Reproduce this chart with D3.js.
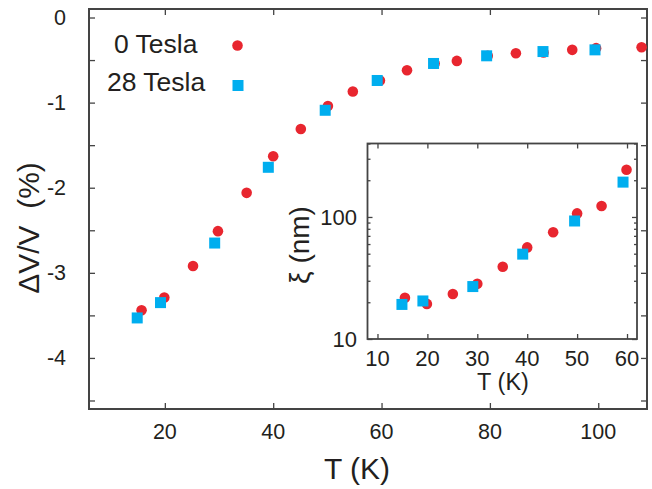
<!DOCTYPE html>
<html>
<head>
<meta charset="utf-8">
<script src="https://cdn.jsdelivr.net/npm/d3@7"></script>
<style>
  body { margin: 0; background: #fff; }
  text { font-family: "Liberation Sans", Arial, sans-serif; fill: #231f20; }
  .axis path { display: none; }
  .axis line { stroke: #444; stroke-width: 1.3; }
</style>
</head>
<body>
<div id="chart"></div>
<script>
// main panel: dV/V vs T
var mainT0 = [15.7, 19.9, 25.2, 29.8, 35.1, 40.0, 45.1, 50.1, 54.7, 59.7, 64.7, 69.8, 73.9, 79.6, 84.8, 89.9, 95.2, 99.6, 108.0];
var mainV0 = [-3.44, -3.29, -2.92, -2.51, -2.06, -1.63, -1.31, -1.04, -0.87, -0.74, -0.62, -0.54, -0.51, -0.45, -0.42, -0.41, -0.38, -0.36, -0.35];
var mainT28 = [14.9, 19.2, 29.2, 39.1, 49.6, 59.2, 69.6, 79.4, 89.8, 99.4];
var mainV28 = [-3.53, -3.35, -2.65, -1.76, -1.09, -0.74, -0.54, -0.45, -0.40, -0.38];

// inset: xi vs T (log)
var insetT0 = [15.5, 19.9, 25.1, 30.0, 35.1, 40.0, 45.2, 50.0, 54.9, 59.9];
var insetXi0 = [21.8, 19.4, 23.4, 28.3, 39.1, 56.3, 75.0, 107, 123, 244];
var insetT28 = [14.9, 19.1, 29.1, 39.1, 49.5, 59.2];
var insetXi28 = [19.2, 20.5, 26.9, 49.6, 92.7, 193];

var mainXTicks = [20, 40, 60, 80, 100];
var mainYTicks = [0, -1, -2, -3, -4];
var mainYMinor = [-0.5, -1.5, -2.5, -3.5, -4.5];
var insetXTicks = [10, 20, 30, 40, 50, 60];
var insetYTicks = [10, 100];
var insetYMinor = [20, 30, 40, 50, 60, 70, 80, 90, 200, 300, 400];

var seriesNames = ["0 Tesla", "28 Tesla"];

var red = "#e8262f", blue = "#00aeef";
var width = 652, height = 489;

var svg = d3.select("#chart").append("svg")
    .attr("width", width)
    .attr("height", height);

// ---- main panel
var x = d3.scaleLinear().domain([6, 109]).range([89, 647]);
var y = d3.scaleLinear().domain([-4.6, 0.1]).range([409, 9]);

function drawTicks(g, scale, ticks, axisFn, size, pos) {
    g.append("g")
        .attr("class", "axis")
        .attr("transform", pos)
        .call(axisFn(scale).tickValues(ticks).tickSize(size).tickFormat(""));
}

var tl = 6;
drawTicks(svg, x, mainXTicks, d3.axisBottom, -tl, "translate(0,409)");
drawTicks(svg, x, mainXTicks, d3.axisTop, -tl, "translate(0,9)");
drawTicks(svg, y, mainYTicks.concat(mainYMinor), d3.axisLeft, -tl, "translate(89,0)");
drawTicks(svg, y, mainYTicks.concat(mainYMinor), d3.axisRight, -tl, "translate(647,0)");

svg.append("rect")
    .attr("x", 89).attr("y", 9)
    .attr("width", 647 - 89).attr("height", 409 - 9)
    .attr("fill", "none").attr("stroke", "#444").attr("stroke-width", 2);

svg.selectAll(".xlab").data(mainXTicks).enter().append("text")
    .attr("x", function (d) { return x(d); })
    .attr("y", 439)
    .attr("text-anchor", "middle")
    .style("font-size", "21.5px")
    .text(function (d) { return d; });

svg.selectAll(".ylab").data(mainYTicks).enter().append("text")
    .attr("x", 66)
    .attr("y", function (d) { return y(d) + 7.5; })
    .attr("text-anchor", "end")
    .style("font-size", "21.5px")
    .text(function (d) { return d; });

svg.append("text")
    .attr("x", 357).attr("y", 479)
    .attr("text-anchor", "middle")
    .style("font-size", "30px")
    .text("T (K)");

svg.append("text")
    .attr("transform", "translate(39,228) rotate(-90)")
    .attr("text-anchor", "middle")
    .style("font-size", "30px")
    .style("white-space", "pre")
    .text("\u0394V/V  (%)");

svg.selectAll(".c0").data(mainT0).enter().append("circle")
    .attr("cx", function (d) { return x(d); })
    .attr("cy", function (d, i) { return y(mainV0[i]); })
    .attr("r", 5.3)
    .attr("fill", red);

svg.selectAll(".s28").data(mainT28).enter().append("rect")
    .attr("x", function (d) { return x(d) - 5.5; })
    .attr("y", function (d, i) { return y(mainV28[i]) - 5.5; })
    .attr("width", 11).attr("height", 11)
    .attr("fill", blue);

// legend
svg.append("text").attr("x", 114).attr("y", 53)
    .style("font-size", "26.5px").text(seriesNames[0]);
svg.append("text").attr("x", 107).attr("y", 91)
    .style("font-size", "26.5px").text(seriesNames[1]);
svg.append("circle").attr("cx", 237.5).attr("cy", 45.5).attr("r", 5.3).attr("fill", red);
svg.append("rect").attr("x", 232.5).attr("y", 80).attr("width", 11).attr("height", 11).attr("fill", blue);

// ---- inset
var ix = d3.scaleLinear().domain([8, 62]).range([367.5, 637]);
var iy = d3.scaleLog().domain([10, 400]).range([339, 143.5]);

svg.append("rect")
    .attr("x", 367.5).attr("y", 143.5)
    .attr("width", 637 - 367.5).attr("height", 339 - 143.5)
    .attr("fill", "#fff");

var its = 5;
drawTicks(svg, ix, insetXTicks, d3.axisBottom, -its, "translate(0,339)");
drawTicks(svg, ix, insetXTicks, d3.axisTop, -its, "translate(0,143.5)");
drawTicks(svg, iy, insetYTicks, d3.axisLeft, -its, "translate(367.5,0)");
drawTicks(svg, iy, insetYTicks, d3.axisRight, -its, "translate(637,0)");
drawTicks(svg, iy, insetYMinor, d3.axisLeft, -3, "translate(367.5,0)");
drawTicks(svg, iy, insetYMinor, d3.axisRight, -3, "translate(637,0)");

svg.append("rect")
    .attr("x", 367.5).attr("y", 143.5)
    .attr("width", 637 - 367.5).attr("height", 339 - 143.5)
    .attr("fill", "none").attr("stroke", "#444").attr("stroke-width", 1.8);

svg.selectAll(".ixlab").data(insetXTicks).enter().append("text")
    .attr("x", function (d) { return ix(d); })
    .attr("y", 366)
    .attr("text-anchor", "middle")
    .style("font-size", "22px")
    .text(function (d) { return d; });

svg.selectAll(".iylab").data(insetYTicks).enter().append("text")
    .attr("x", 357)
    .attr("y", function (d) { return iy(d) + 8; })
    .attr("text-anchor", "end")
    .style("font-size", "22px")
    .text(function (d) { return d; });

svg.append("text")
    .attr("x", 503).attr("y", 390)
    .attr("text-anchor", "middle")
    .style("font-size", "23.5px")
    .text("T (K)");

svg.append("text")
    .attr("transform", "translate(309,245) rotate(-90)")
    .attr("text-anchor", "middle")
    .style("font-size", "28px")
    .text("\u03be (nm)");

svg.selectAll(".ic0").data(insetT0).enter().append("circle")
    .attr("cx", function (d) { return ix(d); })
    .attr("cy", function (d, i) { return iy(insetXi0[i]); })
    .attr("r", 5.3)
    .attr("fill", red);

svg.selectAll(".is28").data(insetT28).enter().append("rect")
    .attr("x", function (d) { return ix(d) - 5.5; })
    .attr("y", function (d, i) { return iy(insetXi28[i]) - 5.5; })
    .attr("width", 11).attr("height", 11)
    .attr("fill", blue);
</script>
</body>
</html>
